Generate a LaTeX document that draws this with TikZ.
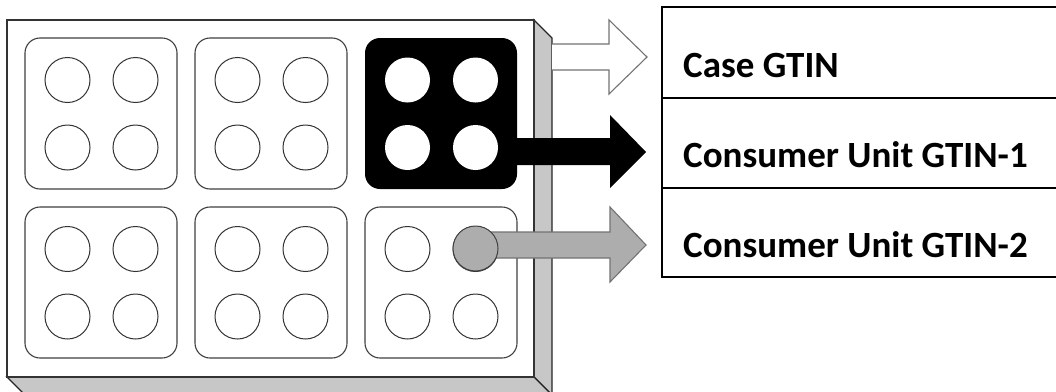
\documentclass[tikz,border=0pt]{standalone}
\usepackage{fontspec}
\setmainfont{Carlito}
\begin{document}
\begin{tikzpicture}[x=1pt,y=-1pt,
  face/.style={draw=black!80, line width=1.6pt, fill=white},
  panel/.style={draw=black!85, fill=black!22, line width=1.4pt},
  casebox/.style={draw=black!75, line width=1.1pt, rounded corners=15pt},
  unit/.style={draw=black!80, line width=1pt},
  cell/.style={draw=black, line width=1.2pt, minimum width=408pt, inner sep=0pt, outer sep=0pt},
  lbl/.style={font=\fontsize{37}{44}\selectfont\bfseries, anchor=base west, inner sep=0pt},
]
\useasboundingbox (0,0) rectangle (1056,391);
\begin{scope}
\clip (0,0) rectangle (1056,391);

% carton: side and bottom faces, then the front face
\filldraw[panel] (534,20) -- (552,38) -- (552,395) -- (534,377) -- cycle;
\filldraw[panel] (7,377) -- (534,377) -- (552,395) -- (25,395) -- cycle;
\draw[face] (7,20) rectangle (534,377);

% packs of four units
\foreach \cx/\cy in {25/38, 195/38, 25/207, 195/207, 365/207} {
  \draw[casebox] (\cx,\cy) rectangle ++(152,151);
  \foreach \dx/\dy in {42.5/42, 110.5/42, 42.5/109.5, 110.5/109.5}
    \draw[unit] (\cx+\dx,\cy+\dy) circle (22.5);
}

% highlighted pack
\fill[black, rounded corners=15pt] (365,38) rectangle ++(152,151);
\foreach \dx/\dy in {42.5/42, 110.5/42, 42.5/109.5, 110.5/109.5}
  \fill[white] (365+\dx,38+\dy) circle (22.5);

% arrow for the case
\fill[white] (552,44) -- (609,44) -- (609,20) -- (647,57) -- (609,94) -- (609,70) -- (552,70) -- cycle;
\draw[black!55, line width=1.1pt, line join=miter] (552,44) -- (609,44) -- (609,20) -- (647,57) -- (609,94) -- (609,70) -- (552,70);

% arrow for the highlighted pack
\fill[black] (505,138) -- (610,138) -- (610,115) -- (646,152) -- (610,188) -- (610,165) -- (505,165) -- cycle;

% arrow for the single unit
\filldraw[fill=black!32, draw=black!55, line width=1.1pt] (474,232) -- (610,232) -- (610,207) -- (646,245) -- (610,282) -- (610,258) -- (474,258) -- cycle;
\filldraw[fill=black!32, draw=black!75, line width=1pt] (475.5,248.5) circle (22.5);

% identifier table
\node[cell, anchor=north west, minimum height=91pt] (r1) at (662,7) {};
\node[cell, anchor=north west, minimum height=90pt] (r2) at (r1.south west) {};
\node[cell, anchor=north west, minimum height=89pt] (r3) at (r2.south west) {};
\node[lbl] (t1) at (683,77) {Case GTIN};
\node[lbl] (t2) at (683,167) {Consumer Unit GTIN-1};
\node[lbl] (t3) at (683,257) {Consumer Unit GTIN-2};
\end{scope}
\end{tikzpicture}
\end{document}
